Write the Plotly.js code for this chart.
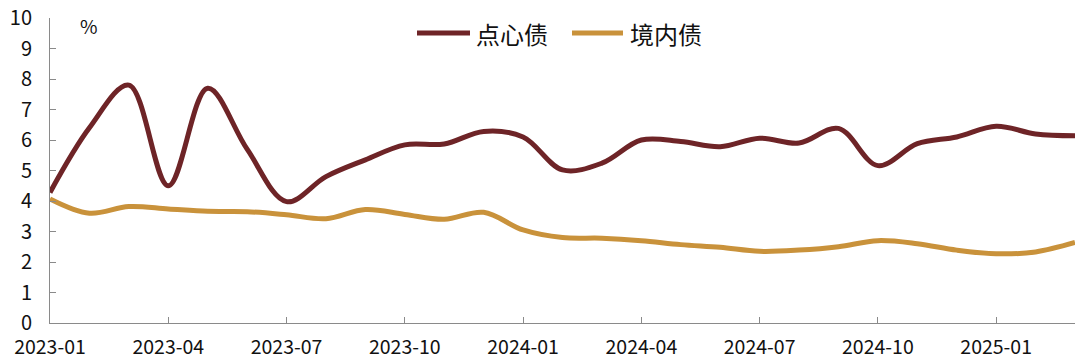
<!DOCTYPE html>
<html>
<head>
<meta charset="utf-8">
<script src="https://cdn.plot.ly/plotly-3.0.1.min.js"></script>
<style>html,body{margin:0;padding:0;background:#fff;}#chart{width:1080px;height:364px;}</style>
</head>
<body>
<div id="chart"></div>
<script>
const months = ["2023-01","2023-02","2023-03","2023-04","2023-05","2023-06","2023-07","2023-08","2023-09","2023-10","2023-11","2023-12",
  "2024-01","2024-02","2024-03","2024-04","2024-05","2024-06","2024-07","2024-08","2024-09","2024-10","2024-11","2024-12",
  "2025-01","2025-02","2025-03"];
const dimSum = [4.28,6.4,7.8,4.5,7.7,5.7,3.98,4.8,5.35,5.84,5.87,6.28,6.1,5.02,5.24,6.0,5.95,5.78,6.06,5.9,6.38,5.16,5.88,6.1,6.45,6.2,6.14];
const onshore = [4.07,3.6,3.82,3.74,3.66,3.65,3.55,3.42,3.72,3.56,3.4,3.63,3.05,2.8,2.78,2.7,2.57,2.48,2.35,2.39,2.5,2.7,2.6,2.39,2.27,2.33,2.64];
const tickLabels = ["2023-01","2023-04","2023-07","2023-10","2024-01","2024-04","2024-07","2024-10","2025-01"];
const seriesNames = ["点心债","境内债"];
const colors = ['#6e2427', '#c9923b'];

const idx = months.map((m,i)=>i);
const tickVals = tickLabels.map(t=>months.indexOf(t));
const font = "'Noto Sans CJK SC', 'Noto Sans', sans-serif";

const traces = [
  {x: idx, y: dimSum, name: seriesNames[0], type: 'scatter', mode: 'lines',
   line: {color: colors[0], width: 5, shape: 'spline', smoothing: 1}},
  {x: idx, y: onshore, name: seriesNames[1], type: 'scatter', mode: 'lines',
   line: {color: colors[1], width: 5, shape: 'spline', smoothing: 1}}
];

// manual legend (pixel positions converted to paper coords)
const L = 50, W = 1025, T = 18, H = 305;
const px = v => (v - L) / W;
const py = v => (T + H - v) / H;
const legendItems = [
  {x0: 417, x1: 470, tx: 474},
  {x0: 572, x1: 623, tx: 628}
];
const shapes = legendItems.map((it, i) => ({
  type: 'line', xref: 'paper', yref: 'paper', x0: px(it.x0), x1: px(it.x1), y0: py(33), y1: py(33),
  line: {color: colors[i], width: 5}
}));
const annotations = legendItems.map((it, i) => ({
  text: seriesNames[i], xref: 'paper', yref: 'paper', x: px(it.tx), y: py(33), xanchor: 'left', yanchor: 'middle',
  showarrow: false, font: {family: font, size: 24, color: '#111'}
}));
annotations.push({text: '%', xref: 'paper', yref: 'paper', x: px(88.5), y: py(25), xanchor: 'center', yanchor: 'middle',
  showarrow: false, font: {family: font, size: 19, color: '#111'}});

const layout = {
  width: 1080, height: 364,
  margin: {l: L, r: 1080 - L - W, t: T, b: 364 - T - H},
  paper_bgcolor: '#fff', plot_bgcolor: '#fff',
  font: {family: font, color: '#111', size: 19},
  showlegend: false,
  xaxis: {
    range: [0, 26], tickmode: 'array', tickvals: tickVals, ticktext: tickLabels,
    showgrid: false, zeroline: false, showline: true, linecolor: '#8a8a8a', linewidth: 1,
    ticks: 'inside', ticklen: 6, tickcolor: '#8a8a8a', ticklabelstandoff: 7,
    tickfont: {family: font, size: 19.5, color: '#111'}
  },
  yaxis: {
    range: [0, 10], dtick: 1, tick0: 0,
    showgrid: false, zeroline: false, showline: true, linecolor: '#8a8a8a', linewidth: 1,
    ticks: 'inside', ticklen: 6, tickcolor: '#8a8a8a', ticksuffix: '\u00a0\u00a0\u2009',
    tickfont: {family: font, size: 20, color: '#111'}
  },
  shapes: shapes,
  annotations: annotations
};

Plotly.newPlot('chart', traces, layout, {displayModeBar: false, staticPlot: true});
</script>
</body>
</html>
